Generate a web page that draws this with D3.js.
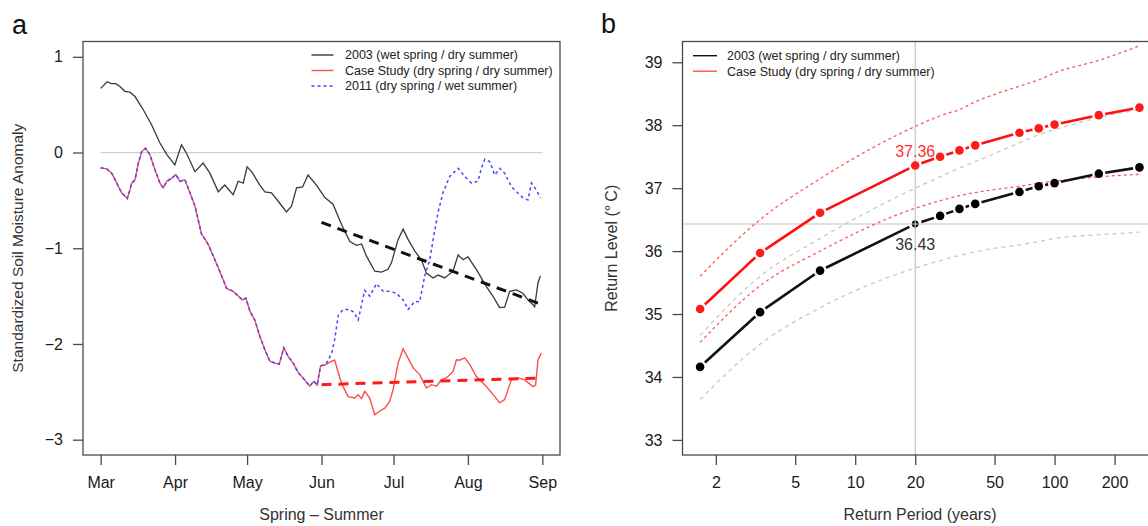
<!DOCTYPE html>
<html>
<head>
<meta charset="utf-8">
<script src="https://cdn.jsdelivr.net/npm/d3@7"></script>
<style>
  body { margin: 0; background: #fff; }
  svg text { font-family: 'Liberation Sans', Arial, Helvetica, sans-serif; }
</style>
</head>
<body>
<script>
// ---- panel a: soil moisture anomaly, days counted from 1 March ----
let days2003 = [0, 2.7, 4.5, 6.3, 8, 10.1, 12.2, 14.3, 17.7, 21.2, 24.7, 27.5, 30.9, 32.3, 33.7, 35.8, 39.3, 42.7, 45.5, 49,
  51.7, 55.2, 57.3, 59.4, 61, 62.9, 66.3, 68.4, 71.2, 74.6, 77.4, 79.5, 81.6, 84.1, 86.4, 89.9, 93.4, 96.8, 100.3, 103.8,
  106.6, 108.7, 110.7, 114.2, 117, 119.7, 121.1, 123.9, 126, 128.1, 130.9, 133.6, 135.7, 138.5, 140.6, 143.3, 146.8, 148.9,
  151, 153, 156.5, 160.7, 163.4, 166.2, 168.3, 170.4, 173.2, 175.9, 178, 180.1, 180.8, 182.2, 183.2];
let vals2003 = [0.67, 0.74, 0.72, 0.72, 0.69, 0.64, 0.63, 0.585, 0.45, 0.29, 0.10, -0.02, -0.13, -0.02, 0.08, -0.01, -0.20, -0.11, -0.215, -0.41,
  -0.34, -0.44, -0.30, -0.32, -0.15, -0.20, -0.34, -0.41, -0.42, -0.53, -0.62, -0.56, -0.37, -0.36, -0.235, -0.34, -0.47, -0.54, -0.75, -0.93,
  -0.97, -0.955, -1.08, -1.24, -1.25, -1.22, -1.155, -0.91, -0.80, -0.91, -1.03, -1.12, -1.26, -1.31, -1.28, -1.31, -1.24, -1.07,
  -1.12, -1.09, -1.22, -1.40, -1.50, -1.62, -1.615, -1.45, -1.435, -1.47, -1.54, -1.59, -1.61, -1.36, -1.29];

// spring part shared by the case study and 2011
let daysSpring = [0, 2.5, 4.6, 6.7, 8.7, 11.1, 12.2, 12.9, 14.3, 15.7, 17.1, 18.7, 20.5, 22.6, 24.7, 26.1, 27.5, 29.6, 31.3, 33,
  35.1, 37.2, 39.3, 42, 44.8, 47.6, 50.4, 52.5, 55.2, 57.3, 59.1, 60.5, 62.2, 64.2, 66.3, 68.4, 70.5, 72.6, 74.4, 76.3,
  78.1, 80.2, 82.3, 84.3, 87.1, 88.8, 90.2, 91.6];
let valsSpring = [-0.16, -0.17, -0.215, -0.32, -0.42, -0.48, -0.39, -0.32, -0.285, -0.11, 0.01, 0.045, -0.02, -0.18, -0.32, -0.37, -0.30, -0.27, -0.23, -0.30,
  -0.285, -0.42, -0.56, -0.85, -0.96, -1.12, -1.29, -1.42, -1.45, -1.50, -1.54, -1.52, -1.66, -1.75, -1.92, -2.06, -2.18, -2.20, -2.21, -2.04,
  -2.13, -2.20, -2.30, -2.355, -2.44, -2.39, -2.43, -2.23];

let daysCaseSummer = [93.4, 96.2, 97.5, 100.3, 103.1, 105.9, 107.2, 108.7, 110, 112.1, 114.2, 116.3, 118.4, 120.4, 121.8, 123.9, 126, 128.1,
  130.2, 132.9, 135.7, 137.8, 139.9, 141.9, 144, 146.8, 148.2, 149.5, 151.7, 153.8, 156.5, 160.7, 164.2, 166.2, 168.3, 171.1,
  173.9, 176.6, 180.1, 181.2, 182.2, 183.6];
let valsCaseSummer = [-2.22, -2.18, -2.17, -2.41, -2.55, -2.565, -2.53, -2.57, -2.495, -2.565, -2.74, -2.70, -2.67, -2.60, -2.48, -2.20, -2.05, -2.15,
  -2.25, -2.32, -2.46, -2.425, -2.44, -2.375, -2.355, -2.29, -2.165, -2.17, -2.145, -2.215, -2.34, -2.445, -2.55, -2.615, -2.58, -2.375,
  -2.355, -2.375, -2.445, -2.43, -2.165, -2.095];

let days2011Summer = [94.1, 96.2, 97.5, 99, 101, 103.8, 105.5, 107.3, 110, 112.1, 114.9, 117.7, 120.4, 123.2, 126, 128.1, 130.9, 132.9,
  135, 137.1, 138.5, 140.6, 142.6, 145.4, 148.9, 151.7, 154.5, 157.2, 158.6, 160, 162.1, 164.2, 166.2, 168.3, 171.1, 173.9,
  176, 178, 179.5, 181.5, 183.2];
let vals2011Summer = [-2.20, -2.10, -1.95, -1.70, -1.64, -1.64, -1.67, -1.75, -1.44, -1.50, -1.37, -1.45, -1.45, -1.47, -1.54, -1.64, -1.555, -1.56,
  -1.29, -1.12, -0.91, -0.62, -0.42, -0.25, -0.165, -0.25, -0.32, -0.30, -0.165, -0.07, -0.095, -0.235, -0.165, -0.215, -0.355, -0.425,
  -0.475, -0.495, -0.32, -0.39, -0.475];

let trendDays = [92, 184];
let trend2003 = [-0.73, -1.59];
let trendCase = [-2.425, -2.355];

let yTicksA = [-3, -2, -1, 0, 1];

// ---- panel b: return levels ----
let periods = [1.667, 3.333, 6.667, 20, 26.67, 33.33, 40, 66.67, 83.33, 100, 166.7, 266.7];
let rl2003 = [34.16, 35.03, 35.69, 36.43, 36.56, 36.67, 36.75, 36.94, 37.03, 37.08, 37.23, 37.33];
let rlCase = [35.08, 35.97, 36.61, 37.36, 37.50, 37.60, 37.68, 37.88, 37.95, 38.01, 38.16, 38.28];
let lo2003 = [33.64, 34.52, 35.10, 35.73, 35.85, 35.93, 35.99, 36.10, 36.15, 36.20, 36.26, 36.30];
let hi2003 = [34.66, 35.60, 36.20, 37.00, 37.18, 37.32, 37.42, 37.72, 37.85, 37.93, 38.12, 38.25];
let loCase = [34.55, 35.45, 36.00, 36.68, 36.80, 36.88, 36.93, 37.03, 37.08, 37.11, 37.18, 37.22];
let hiCase = [35.60, 36.50, 37.15, 37.98, 38.15, 38.25, 38.37, 38.62, 38.72, 38.83, 39.03, 39.26];
let markIdx = 3; // the 20-year return period
let xTicksB = [2, 5, 10, 20, 50, 100, 200];
let yTicksB = [33, 34, 35, 36, 37, 38, 39];

let w = 1148, h = 526;
let frameColor = '#4a4a4a';

let svg = d3.select('body').append('svg')
  .attr('width', w)
  .attr('height', h);

const dayToDate = d => new Date(Date.UTC(2003, 2, 1) + d * 864e5);

// panel a scales (R style 4% padding on x)
let aBox = { left: 83, right: 560, top: 41.5, bottom: 455 };
let xA = d3.scaleUtc()
  .domain([dayToDate(-7.36), dayToDate(191.36)])
  .range([aBox.left, aBox.right]);
let yA = d3.scaleLinear()
  .domain([-3.16, 1.16])
  .range([aBox.bottom, aBox.top]);

let bBox = { left: 682.5, right: 1157, top: 41.5, bottom: 455 };
let xB = d3.scaleLog()
  .domain([Math.pow(10, 0.1336), Math.pow(10, 2.514)])
  .range([bBox.left, bBox.right]);
let yB = d3.scaleLinear()
  .domain([32.76, 39.33])
  .range([bBox.bottom, bBox.top]);

const styleAxis = (g) => {
  g.select('.domain').remove();
  g.selectAll('.tick line').attr('stroke', frameColor).attr('stroke-width', 1.3);
  g.selectAll('.tick text').attr('fill', '#1a1a1a').attr('font-size', '16px')
    .attr('font-family', "'Liberation Sans', Arial, sans-serif");
};

// ================= panel a =================
let ga = svg.append('g');

ga.append('g')
  .attr('transform', `translate(0,${aBox.bottom})`)
  .call(d3.axisBottom(xA)
    .tickValues(d3.utcMonth.range(dayToDate(0), dayToDate(185)))
    .tickFormat(d3.utcFormat('%b'))
    .tickSize(10).tickPadding(12))
  .call(styleAxis);

ga.append('g')
  .attr('transform', `translate(${aBox.left},0)`)
  .call(d3.axisLeft(yA).tickValues(yTicksA).tickFormat(d3.format('d')).tickSize(10).tickPadding(10))
  .call(styleAxis);

// zero reference line
ga.append('line')
  .attr('x1', xA(dayToDate(0))).attr('x2', xA(dayToDate(184)))
  .attr('y1', yA(0)).attr('y2', yA(0))
  .attr('stroke', '#cfcfcf').attr('stroke-width', 1.2);

let lineA = d3.line().x(d => xA(dayToDate(d[0]))).y(d => yA(d[1]));

let series2003 = d3.zip(days2003, vals2003);
let seriesCase = d3.zip(daysSpring.concat(daysCaseSummer), valsSpring.concat(valsCaseSummer));
let series2011 = d3.zip(daysSpring.concat(days2011Summer), valsSpring.concat(vals2011Summer));

ga.append('path').datum(series2003)
  .attr('d', lineA).attr('fill', 'none')
  .attr('stroke', '#3a3a3a').attr('stroke-width', 1.3);

ga.append('path').datum(seriesCase)
  .attr('d', lineA).attr('fill', 'none')
  .attr('stroke', '#ff4c4c').attr('stroke-width', 1.4);

ga.append('path').datum(series2011)
  .attr('d', lineA).attr('fill', 'none')
  .attr('stroke', '#4646ff').attr('stroke-width', 1.5)
  .attr('stroke-dasharray', '3,3');

ga.append('path').datum(d3.zip(trendDays, trend2003))
  .attr('d', lineA).attr('fill', 'none')
  .attr('stroke', '#111').attr('stroke-width', 3)
  .attr('stroke-dasharray', '10,7');

ga.append('path').datum(d3.zip(trendDays, trendCase))
  .attr('d', lineA).attr('fill', 'none')
  .attr('stroke', '#ff1a1a').attr('stroke-width', 3)
  .attr('stroke-dasharray', '10,7');

ga.append('rect')
  .attr('x', aBox.left).attr('y', aBox.top)
  .attr('width', aBox.right - aBox.left).attr('height', aBox.bottom - aBox.top)
  .attr('fill', 'none').attr('stroke', frameColor).attr('stroke-width', 1.3);

// legend a
let legA = [
  { label: '2003 (wet spring / dry summer)', color: '#3a3a3a', dash: null },
  { label: 'Case Study (dry spring / dry summer)', color: '#ff4c4c', dash: null },
  { label: '2011 (dry spring / wet summer)', color: '#4646ff', dash: '3,3' }
];
legA.forEach((d, i) => {
  let yy = 55 + i * 15.5;
  ga.append('line').attr('x1', 311.5).attr('x2', 333.5).attr('y1', yy).attr('y2', yy)
    .attr('stroke', d.color).attr('stroke-width', 1.4).attr('stroke-dasharray', d.dash);
  ga.append('text').attr('x', 345).attr('y', yy + 4.4)
    .attr('font-size', '12.5px').attr('fill', '#222').text(d.label);
});

ga.append('text')
  .attr('x', (aBox.left + aBox.right) / 2).attr('y', 520)
  .attr('text-anchor', 'middle').attr('font-size', '16px').attr('fill', '#333')
  .text('Spring – Summer');

ga.append('text')
  .attr('transform', `translate(23,${(aBox.top + aBox.bottom) / 2}) rotate(-90)`)
  .attr('text-anchor', 'middle').attr('font-size', '15.5px').attr('fill', '#333')
  .text('Standardized Soil Moisture Anomaly');

ga.append('text').attr('x', 12).attr('y', 34)
  .attr('font-size', '27px').attr('fill', '#111').text('a');

// ================= panel b =================
let gb = svg.append('g');

gb.append('g')
  .attr('transform', `translate(0,${bBox.bottom})`)
  .call(d3.axisBottom(xB).tickValues(xTicksB).tickFormat(d3.format('d')).tickSize(10).tickPadding(12))
  .call(styleAxis);

gb.append('g')
  .attr('transform', `translate(${bBox.left},0)`)
  .call(d3.axisLeft(yB).tickValues(yTicksB).tickFormat(d3.format('d')).tickSize(10).tickPadding(10))
  .call(styleAxis);

// crosshair at the 20-year level
gb.append('line')
  .attr('x1', xB(periods[markIdx])).attr('x2', xB(periods[markIdx]))
  .attr('y1', bBox.top).attr('y2', bBox.bottom)
  .attr('stroke', '#c4c4c4').attr('stroke-width', 1.2);
gb.append('line')
  .attr('x1', bBox.left).attr('x2', bBox.right)
  .attr('y1', yB(rl2003[markIdx])).attr('y2', yB(rl2003[markIdx]))
  .attr('stroke', '#c4c4c4').attr('stroke-width', 1.2);

let lineB = d3.line().x(d => xB(d[0])).y(d => yB(d[1])).curve(d3.curveMonotoneX);

[[lo2003, '#c8c8c8', '4,4'], [hi2003, '#c8c8c8', '4,4'],
 [loCase, '#ff5a5a', '3,3'], [hiCase, '#ff5a5a', '3,3']].forEach(([vals, col, dash]) => {
  gb.append('path').datum(d3.zip(periods, vals))
    .attr('d', lineB).attr('fill', 'none')
    .attr('stroke', col).attr('stroke-width', 1.3)
    .attr('stroke-dasharray', dash);
});

// type "b" lines: segments with gaps around the points
const gapSegments = (vals, color) => {
  d3.pairs(d3.zip(periods, vals)).forEach(([a, b]) => {
    let x1 = xB(a[0]), y1 = yB(a[1]), x2 = xB(b[0]), y2 = yB(b[1]);
    let len = Math.hypot(x2 - x1, y2 - y1), gap = 6.5;
    if (len <= 2 * gap) return;
    let ux = (x2 - x1) / len, uy = (y2 - y1) / len;
    gb.append('line')
      .attr('x1', x1 + ux * gap).attr('y1', y1 + uy * gap)
      .attr('x2', x2 - ux * gap).attr('y2', y2 - uy * gap)
      .attr('stroke', color).attr('stroke-width', 2.6);
  });
};
gapSegments(rl2003, '#111');
gapSegments(rlCase, '#ff1010');

gb.selectAll('circle.k').data(d3.zip(periods, rl2003)).enter()
  .append('circle').attr('class', 'k')
  .attr('cx', d => xB(d[0])).attr('cy', d => yB(d[1]))
  .attr('r', (d, i) => i === markIdx ? 3.4 : 4.3)
  .attr('fill', '#000');

gb.selectAll('circle.r').data(d3.zip(periods, rlCase)).enter()
  .append('circle').attr('class', 'r')
  .attr('cx', d => xB(d[0])).attr('cy', d => yB(d[1]))
  .attr('r', 4.3)
  .attr('fill', '#ff1a1a');

// light cross over the marked 2003 point
let mx = xB(periods[markIdx]), my = yB(rl2003[markIdx]);
gb.append('path')
  .attr('d', `M${mx - 3.4},${my}H${mx + 3.4}M${mx},${my - 3.4}V${my + 3.4}`)
  .attr('stroke', '#d8d8d8').attr('stroke-width', 1);

gb.append('text')
  .attr('x', xB(periods[markIdx])).attr('y', yB(rlCase[markIdx]) - 8)
  .attr('text-anchor', 'middle').attr('font-size', '16px').attr('fill', '#ff3030')
  .text(rlCase[markIdx].toFixed(2));

gb.append('text')
  .attr('x', xB(periods[markIdx])).attr('y', yB(rl2003[markIdx]) + 26)
  .attr('text-anchor', 'middle').attr('font-size', '16px').attr('fill', '#333')
  .text(rl2003[markIdx].toFixed(2));

gb.append('rect')
  .attr('x', bBox.left).attr('y', bBox.top)
  .attr('width', bBox.right - bBox.left).attr('height', bBox.bottom - bBox.top)
  .attr('fill', 'none').attr('stroke', frameColor).attr('stroke-width', 1.3);

// legend b
let legB = [
  { label: '2003 (wet spring / dry summer)', color: '#111' },
  { label: 'Case Study (dry spring / dry summer)', color: '#ff5050' }
];
legB.forEach((d, i) => {
  let yy = 55.7 + i * 15.5;
  gb.append('line').attr('x1', 693).attr('x2', 717).attr('y1', yy).attr('y2', yy)
    .attr('stroke', d.color).attr('stroke-width', 1.4);
  gb.append('text').attr('x', 727).attr('y', yy + 4.4)
    .attr('font-size', '12.5px').attr('fill', '#222').text(d.label);
});

gb.append('text')
  .attr('x', 920).attr('y', 520)
  .attr('text-anchor', 'middle').attr('font-size', '16px').attr('fill', '#333')
  .text('Return Period (years)');

gb.append('text')
  .attr('transform', `translate(617,${(bBox.top + bBox.bottom) / 2}) rotate(-90)`)
  .attr('text-anchor', 'middle').attr('font-size', '16px').attr('fill', '#333')
  .text('Return Level (°\u2009C)');

gb.append('text').attr('x', 601).attr('y', 33)
  .attr('font-size', '27px').attr('fill', '#111').text('b');
</script>
</body>
</html>
